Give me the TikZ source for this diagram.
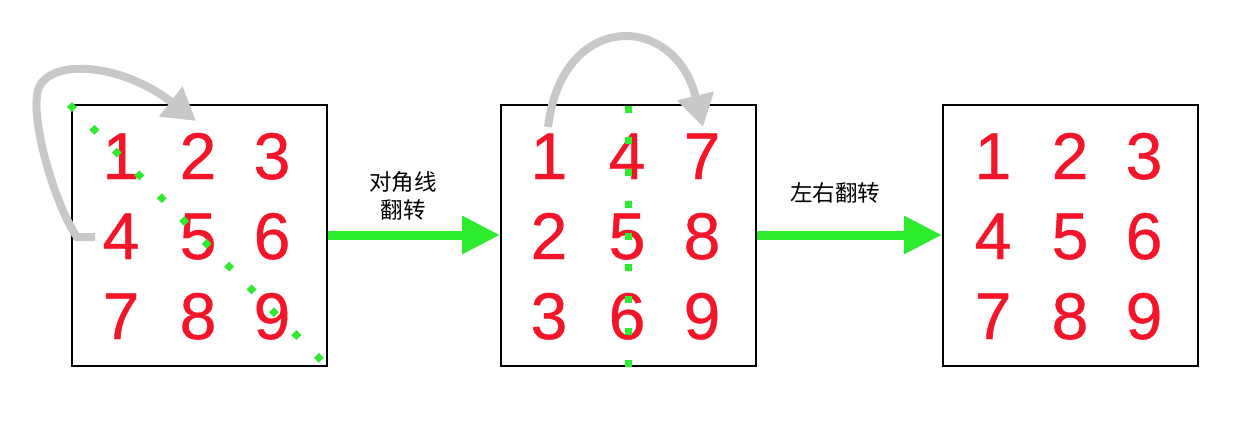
\documentclass[tikz,border=0pt]{standalone}
\usepackage{fontspec}
\setmainfont{Liberation Sans}
\newfontfamily\digfont[FakeBold=0.6]{Liberation Sans}
\newfontfamily\cjk{Noto Sans CJK SC}
\usetikzlibrary{arrows.meta}
\definecolor{digred}{RGB}{245,20,40}
\definecolor{brgreen}{RGB}{45,235,45}
\definecolor{arrgray}{RGB}{200,200,200}
\tikzset{
  box/.style={draw=black,line width=2pt,minimum width=255pt,minimum height=261pt,inner sep=0pt,fill=white},
  dig/.style={text=digred,font=\digfont\fontsize{66}{66}\selectfont,anchor=base,inner sep=0pt},
  flow/.style={draw=brgreen,line width=9pt,-{Triangle[length=38pt,width=36pt]}},
  dotline/.style={draw=brgreen,line width=7pt,dash pattern=on 7pt off 25pt},
  vdotline/.style={draw=brgreen,line width=7pt,dash pattern=on 7pt off 24.75pt},
  swap/.style={draw=arrgray,line width=8pt,-{Triangle[length=32pt,width=36pt]}},
  lbl/.style={font=\cjk\fontsize{22.5}{28}\selectfont,align=center,inner sep=0pt}
}
\begin{document}
\begin{tikzpicture}[x=1pt,y=-1pt]
\useasboundingbox (0,0) rectangle (1238,426);
% boxes
\node[box] (b1) at (199,235.5) {};
\node[box] (b2) at (628.5,235.5) {};
\node[box] (b3) at (1070.5,235.5) {};
% digits box 1
\node[dig] (a1) at (121,179) {1};
\node[dig] (a2) at (198,179) {2};
\node[dig] (a3) at (272,179) {3};
\node[dig] (a4) at (121,259) {4};
\node[dig] (a5) at (198,259) {5};
\node[dig] (a6) at (272,259) {6};
\node[dig] (a7) at (121,339) {7};
\node[dig] (a8) at (198,339) {8};
\node[dig] (a9) at (272,339) {9};
% digits box 2
\node[dig] (c1) at (549,179) {1};
\node[dig] (c4) at (627,179) {4};
\node[dig] (c7) at (702,179) {7};
\node[dig] (c2) at (549,259) {2};
\node[dig] (c5) at (627,259) {5};
\node[dig] (c8) at (702,259) {8};
\node[dig] (c3) at (549,339) {3};
\node[dig] (c6) at (627,339) {6};
\node[dig] (c9) at (702,339) {9};
% digits box 3
\node[dig] (d1) at (993,179) {1};
\node[dig] (d2) at (1070,179) {2};
\node[dig] (d3) at (1144,179) {3};
\node[dig] (d4) at (993,259) {4};
\node[dig] (d5) at (1070,259) {5};
\node[dig] (d6) at (1144,259) {6};
\node[dig] (d7) at (993,339) {7};
\node[dig] (d8) at (1070,339) {8};
\node[dig] (d9) at (1144,339) {9};
% dotted guide lines
\coordinate (g1) at (69.5,104.5);
\coordinate (g2) at (322,361);
\draw[dotline] (g1) -- (g2);
\coordinate (v1) at (628.3,105.5);
\coordinate (v2) at (628.3,366.5);
\draw[vdotline] (v1) -- (v2);
% flow arrows
\draw[flow] (b1.east |- 0,235) -- (b2.west |- 0,235);
\draw[flow] (b2.east |- 0,235) -- (b3.west |- 0,235);
\node[lbl] (t1) at (403,196) {对角线\\翻转};
\node[lbl] (t2) at (835,193) {左右翻转};
% gray swap arrows
\coordinate (s1) at (95,237);
\coordinate (s1k) at (77,237);
\coordinate (s1e) at (196,121);
\draw[swap] (s1) -- (s1k) .. controls (55,205) and (30,120) .. (38,90)
  .. controls (48,58) and (120,62) .. (s1e);
\coordinate (s2) at (548,127);
\coordinate (s2e) at (703,127);
\draw[swap] (s2) .. controls (562,10) and (675,12) .. (s2e);
\end{tikzpicture}
\end{document}
